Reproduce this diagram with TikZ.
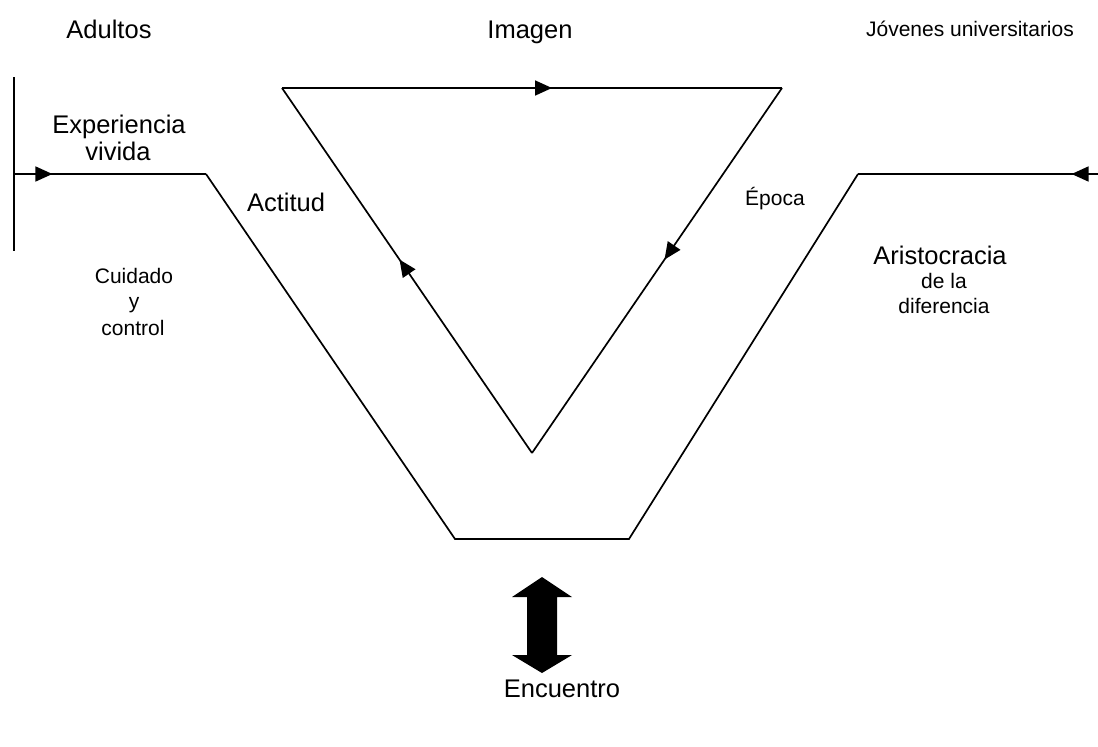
\documentclass[tikz,border=0pt]{standalone}
\usepackage{fontspec}
\setmainfont{Liberation Sans}
\usetikzlibrary{arrows.meta,decorations.markings}
\begin{document}
\begin{tikzpicture}[x=1pt,y=-1pt,
  line/.style={line width=1.7pt},
  big/.style={font=\fontsize{25.5}{28}\selectfont,inner sep=0pt,anchor=base},
  small/.style={font=\fontsize{21}{24}\selectfont,inner sep=0pt,anchor=base},
  marked/.style={postaction={decorate},decoration={markings,
    mark=at position #1 with {\arrow{Triangle[length=17pt,width=15pt]}}}}]
\useasboundingbox (0,0) rectangle (1098,747);

% points of the road and the triangle
\coordinate (vt) at (14,77);
\coordinate (vb) at (14,251);
\coordinate (ls) at (14,174);
\coordinate (lb) at (206,174);
\coordinate (bl) at (455,539);
\coordinate (br) at (629,539);
\coordinate (rb) at (858,174);
\coordinate (rs) at (1098,174);
\coordinate (ta) at (282,88);
\coordinate (tb) at (782,88);
\coordinate (tc) at (532,453);

% vertical bar on the left
\draw[line] (vt) -- (vb);

% road from both sides down to the meeting point
\draw[line,marked=0.2] (ls) -- (lb);
\draw[line] (lb) -- (bl) -- (br) -- (rb);
\draw[line,marked=0.11] (rs) -- (rb);

% inverted triangle with circulating arrows
\draw[line,marked=0.54] (ta) -- (tb);
\draw[line,marked=0.47] (tb) -- (tc);
\draw[line,marked=0.53] (tc) -- (ta);

% double arrow above the label
\fill (542,577) -- (572,597) -- (557,597) -- (557,655) -- (572,655)
  -- (542,673) -- (512,655) -- (527,655) -- (527,597) -- (512,597) -- cycle;

% labels
\node[big] (adultos) at (109,38) {Adultos};
\node[big] (imagen) at (530,38) {Imagen};
\node[small] (jovenes) at (970,36) {Jóvenes universitarios};
\node[big] (exp1) at (119,133) {Experiencia};
\node[big] (exp2) at (118,160) {vivida};
\node[big] (actitud) at (286,211) {Actitud};
\node[small] (epoca) at (775,205) {Época};
\node[small] (cui1) at (134,283) {Cuidado};
\node[small] (cui2) at (134,308) {y};
\node[small] (cui3) at (133,335) {control};
\node[big] (ari1) at (940,264) {Aristocracia};
\node[small] (ari2) at (944,288) {de la};
\node[small] (ari3) at (944,313) {diferencia};
\node[big] (encuentro) at (562,697) {Encuentro};
\end{tikzpicture}
\end{document}
